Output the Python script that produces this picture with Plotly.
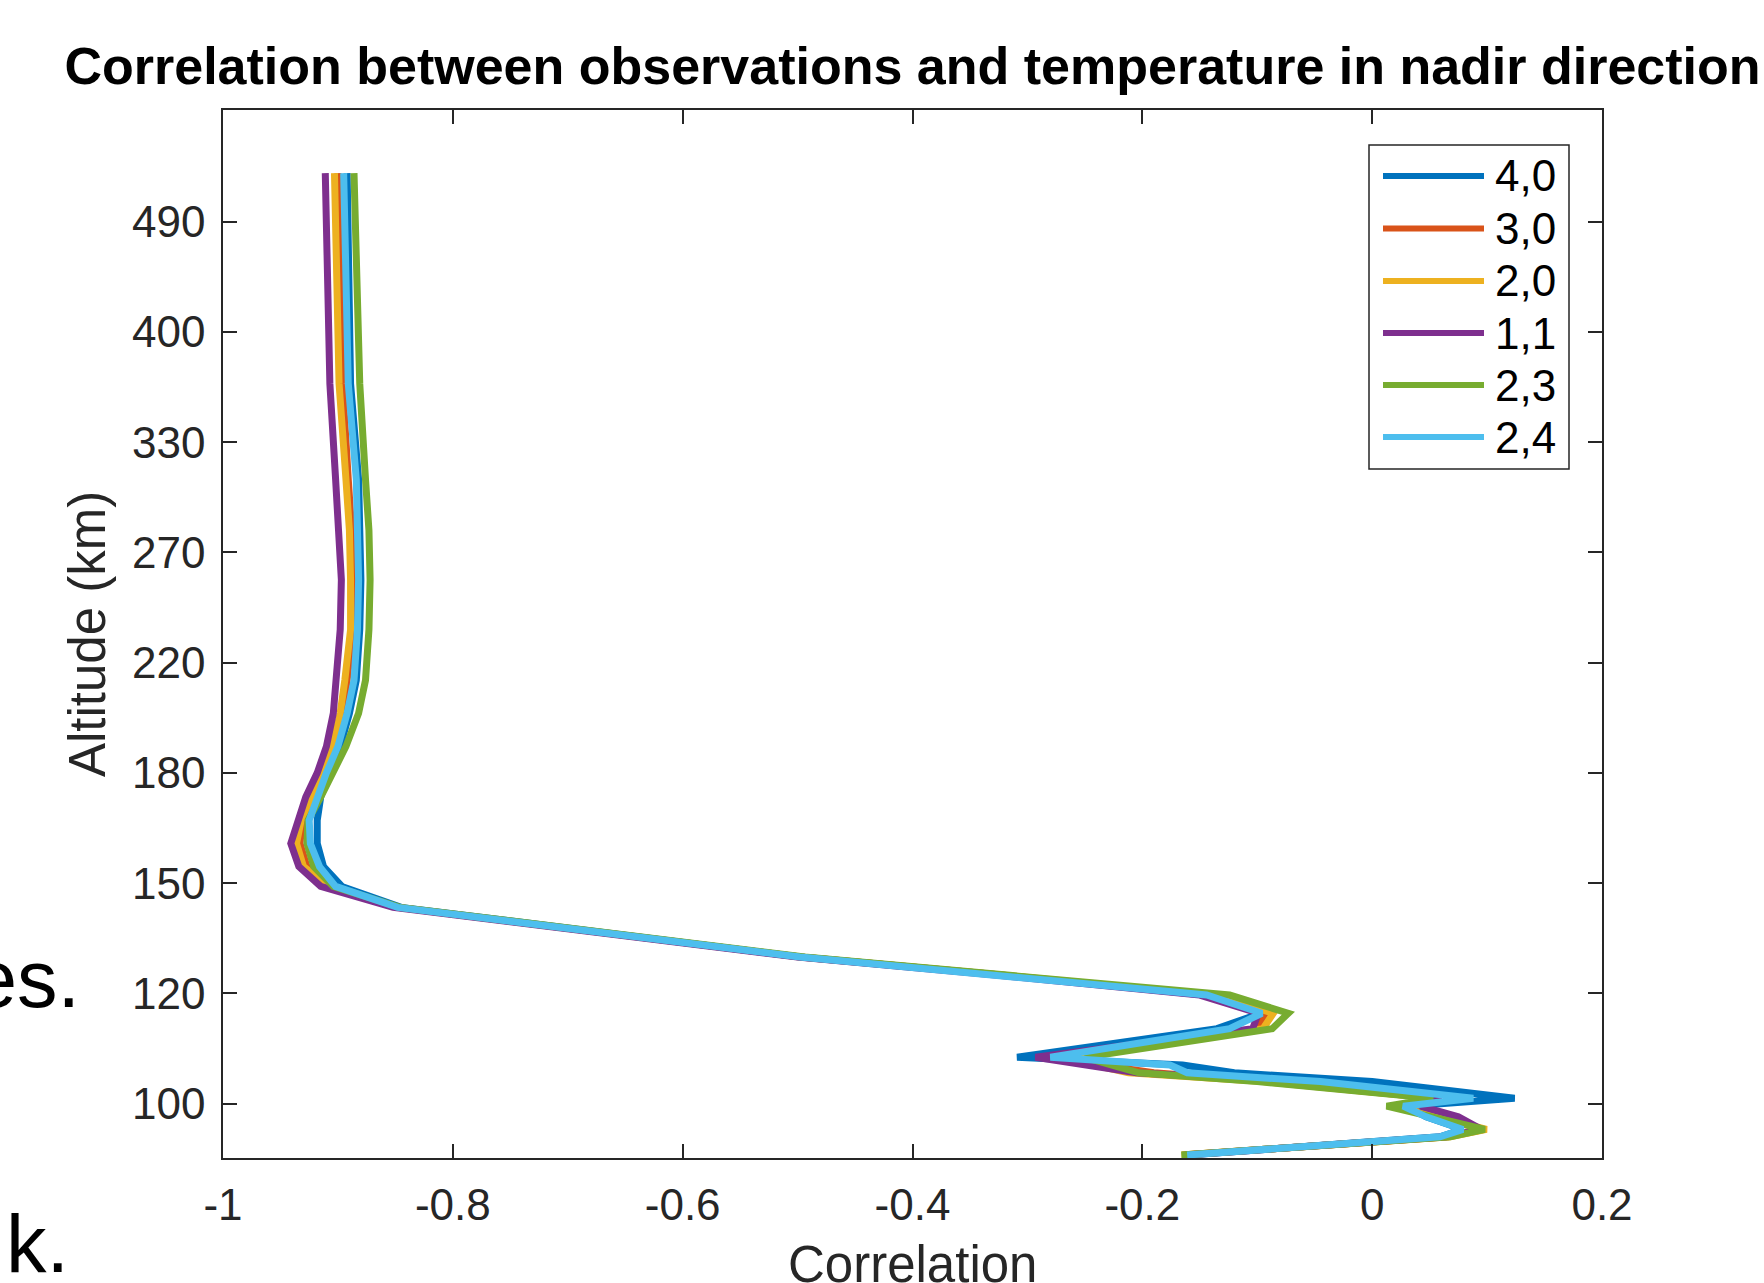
import plotly.graph_objects as go

# ---------------- data ----------------
tick_labels = ['100', '120', '150', '180', '220', '270', '330', '400', '490']
tick_pos = [0, 1, 2, 3, 4, 5, 6, 7, 8]
x_tick_vals = [-1, -0.8, -0.6, -0.4, -0.2, 0, 0.2]
x_tick_text = ['-1', '-0.8', '-0.6', '-0.4', '-0.2', '0', '0.2']

# vertical coordinate (model level, tick positions above)
level = [8.44, 7.5, 6.53, 5.66, 5.2, 4.75, 4.30, 3.84, 3.54, 3.24, 3.0, 2.78, 2.57, 2.36,
         2.15, 1.97, 1.78, 1.33, 1.166, 0.985, 0.82, 0.68, 0.42, 0.35, 0.28, 0.20,
         0.048, -0.023, -0.12, -0.234, -0.30, -0.466]

corr_4_0 = [-0.892, -0.890, -0.889, -0.882, -0.881, -0.880, -0.881, -0.884, -0.890, -0.898,
            -0.908, -0.915, -0.918, -0.918, -0.9125, -0.8965, -0.845, -0.497, -0.323, -0.146,
            -0.097, -0.135, -0.309, -0.165, -0.120, 0.000, 0.124, 0.030, 0.047, 0.079, 0.059,
            -0.161]
corr_3_0 = [-0.900, -0.898, -0.896, -0.891, -0.888, -0.887, -0.887, -0.892, -0.896, -0.903,
            -0.912, -0.921, -0.931, -0.933, -0.927, -0.906, -0.848, -0.498, -0.323, -0.141,
            -0.092, -0.100, -0.285, -0.236, -0.190, -0.090, 0.055, 0.020, 0.055, 0.097, 0.066,
            -0.165]
corr_2_0 = [-0.903, -0.901, -0.899, -0.893, -0.890, -0.889, -0.889, -0.894, -0.898, -0.905,
            -0.914, -0.923, -0.932, -0.936, -0.930, -0.908, -0.848, -0.497, -0.322, -0.138,
            -0.086, -0.095, -0.272, -0.241, -0.212, -0.095, 0.055, 0.020, 0.055, 0.0996, 0.068,
            -0.166]
corr_1_1 = [-0.911, -0.909, -0.907, -0.902, -0.899, -0.897, -0.898, -0.901, -0.904, -0.910,
            -0.918, -0.928, -0.935, -0.941, -0.934, -0.915, -0.852, -0.500, -0.328, -0.150,
            -0.099, -0.104, -0.293, -0.249, -0.205, -0.075, 0.060, 0.042, 0.075, 0.095, 0.064,
            -0.163]
corr_2_3 = [-0.886, -0.884, -0.881, -0.876, -0.873, -0.872, -0.873, -0.876, -0.882, -0.893,
            -0.904, -0.915, -0.926, -0.927, -0.921, -0.904, -0.846, -0.494, -0.318, -0.124,
            -0.073, -0.087, -0.250, -0.226, -0.203, -0.100, 0.053, 0.0126, 0.050, 0.098, 0.068,
            -0.166]
corr_2_4 = [-0.895, -0.893, -0.891, -0.884, -0.883, -0.882, -0.883, -0.886, -0.892, -0.900,
            -0.910, -0.918, -0.925, -0.924, -0.916, -0.902, -0.848, -0.498, -0.324, -0.144,
            -0.096, -0.124, -0.280, -0.176, -0.161, -0.045, 0.088, 0.027, 0.047, 0.079, 0.059,
            -0.161]

series_names = ['4,0', '3,0', '2,0', '1,1', '2,3', '2,4']
series_values = [corr_4_0, corr_3_0, corr_2_0, corr_1_1, corr_2_3, corr_2_4]
colors = ['#0072BD', '#D95319', '#EDB120', '#7E2F8E', '#77AC30', '#4DBEEE']

title_text = 'Correlation between observations and temperature in nadir direction'
x_title = 'Correlation'
y_title = 'Altitude (km)'

# ---------------- layout geometry (pixels) ----------------
W, H = 1764, 1283
PL, PR, PT, PB = 223, 1602, 110, 1158
AX = '#262626'
FONT = 'Liberation Sans, Arial, Helvetica, sans-serif'


def px(xp, yp):
    return (xp - PL) / (PR - PL), (PB - yp) / (PB - PT)


fig = go.Figure()
for name, vals, col in zip(series_names, series_values, colors):
    fig.add_trace(go.Scatter(x=vals, y=level, mode='lines', name=name,
                             line=dict(color=col, width=7), showlegend=False))

# custom legend (MATLAB style)
shapes = []
annotations = []
bx0, by0 = px(1369, 145)
bx1, by1 = px(1569, 469)
shapes.append(dict(type='rect', xref='paper', yref='paper', x0=bx0, y0=by0, x1=bx1, y1=by1,
                   line=dict(color=AX, width=1.5), fillcolor='white', layer='above'))
row_y = [176, 228.5, 281, 333, 385, 437]
for name, col, ry in zip(series_names, colors, row_y):
    lx0, ly = px(1383, ry)
    lx1, _ = px(1484, ry)
    shapes.append(dict(type='line', xref='paper', yref='paper', x0=lx0, y0=ly, x1=lx1, y1=ly,
                       line=dict(color=col, width=6), layer='above'))
    tx, ty = px(1493, ry)
    annotations.append(dict(text=name, xref='paper', yref='paper', x=tx, y=ty,
                            xanchor='left', yanchor='middle', showarrow=False,
                            font=dict(family=FONT, size=44, color='black')))

# x-axis title, partly cut by the bottom edge as in the reference
xt_x, xt_y = px((PL + PR) / 2, 1264)
annotations.append(dict(text=x_title, xref='paper', yref='paper', x=xt_x, y=xt_y,
                        xanchor='center', yanchor='middle', showarrow=False,
                        font=dict(family=FONT, size=51, color=AX)))

# stray text fragments visible at the left edge of the reference
for txt, xr, ym in [('es.', 82, 979), ('k.', 71, 1244)]:
    ax_, ay_ = px(xr, ym)
    annotations.append(dict(text=txt, xref='paper', yref='paper', x=ax_, y=ay_,
                            xanchor='right', yanchor='middle', showarrow=False,
                            font=dict(family=FONT, size=81, color='black')))

fig.update_layout(
    width=W, height=H,
    margin=dict(l=PL, r=W - PR, t=PT, b=H - PB, autoexpand=False),
    paper_bgcolor='white', plot_bgcolor='white',
    title=dict(text='<b>' + title_text + '</b>', x=0.5, xref='paper', xanchor='center',
               y=1 - 66 / H, yref='container', yanchor='middle',
               font=dict(family=FONT, size=52, color='black')),
    shapes=shapes, annotations=annotations,
    xaxis=dict(range=[-1, 0.2], tickvals=x_tick_vals, ticktext=x_tick_text,
               ticks='inside', ticklen=14, tickwidth=1.5, tickcolor=AX,
               showline=True, linecolor=AX, linewidth=1.5, mirror='ticks',
               showgrid=False, zeroline=False, ticklabelstandoff=7,
               tickfont=dict(family=FONT, size=44, color=AX)),
    yaxis=dict(range=[-0.493, 9.012], tickvals=tick_pos, ticktext=tick_labels,
               ticks='inside', ticklen=14, tickwidth=1.5, tickcolor=AX,
               showline=True, linecolor=AX, linewidth=1.5, mirror='ticks',
               showgrid=False, zeroline=False, ticklabelstandoff=7,
               tickfont=dict(family=FONT, size=44, color=AX),
               title=dict(text=y_title, standoff=10, font=dict(family=FONT, size=51, color=AX))),
)

fig.write_html('out.html')
